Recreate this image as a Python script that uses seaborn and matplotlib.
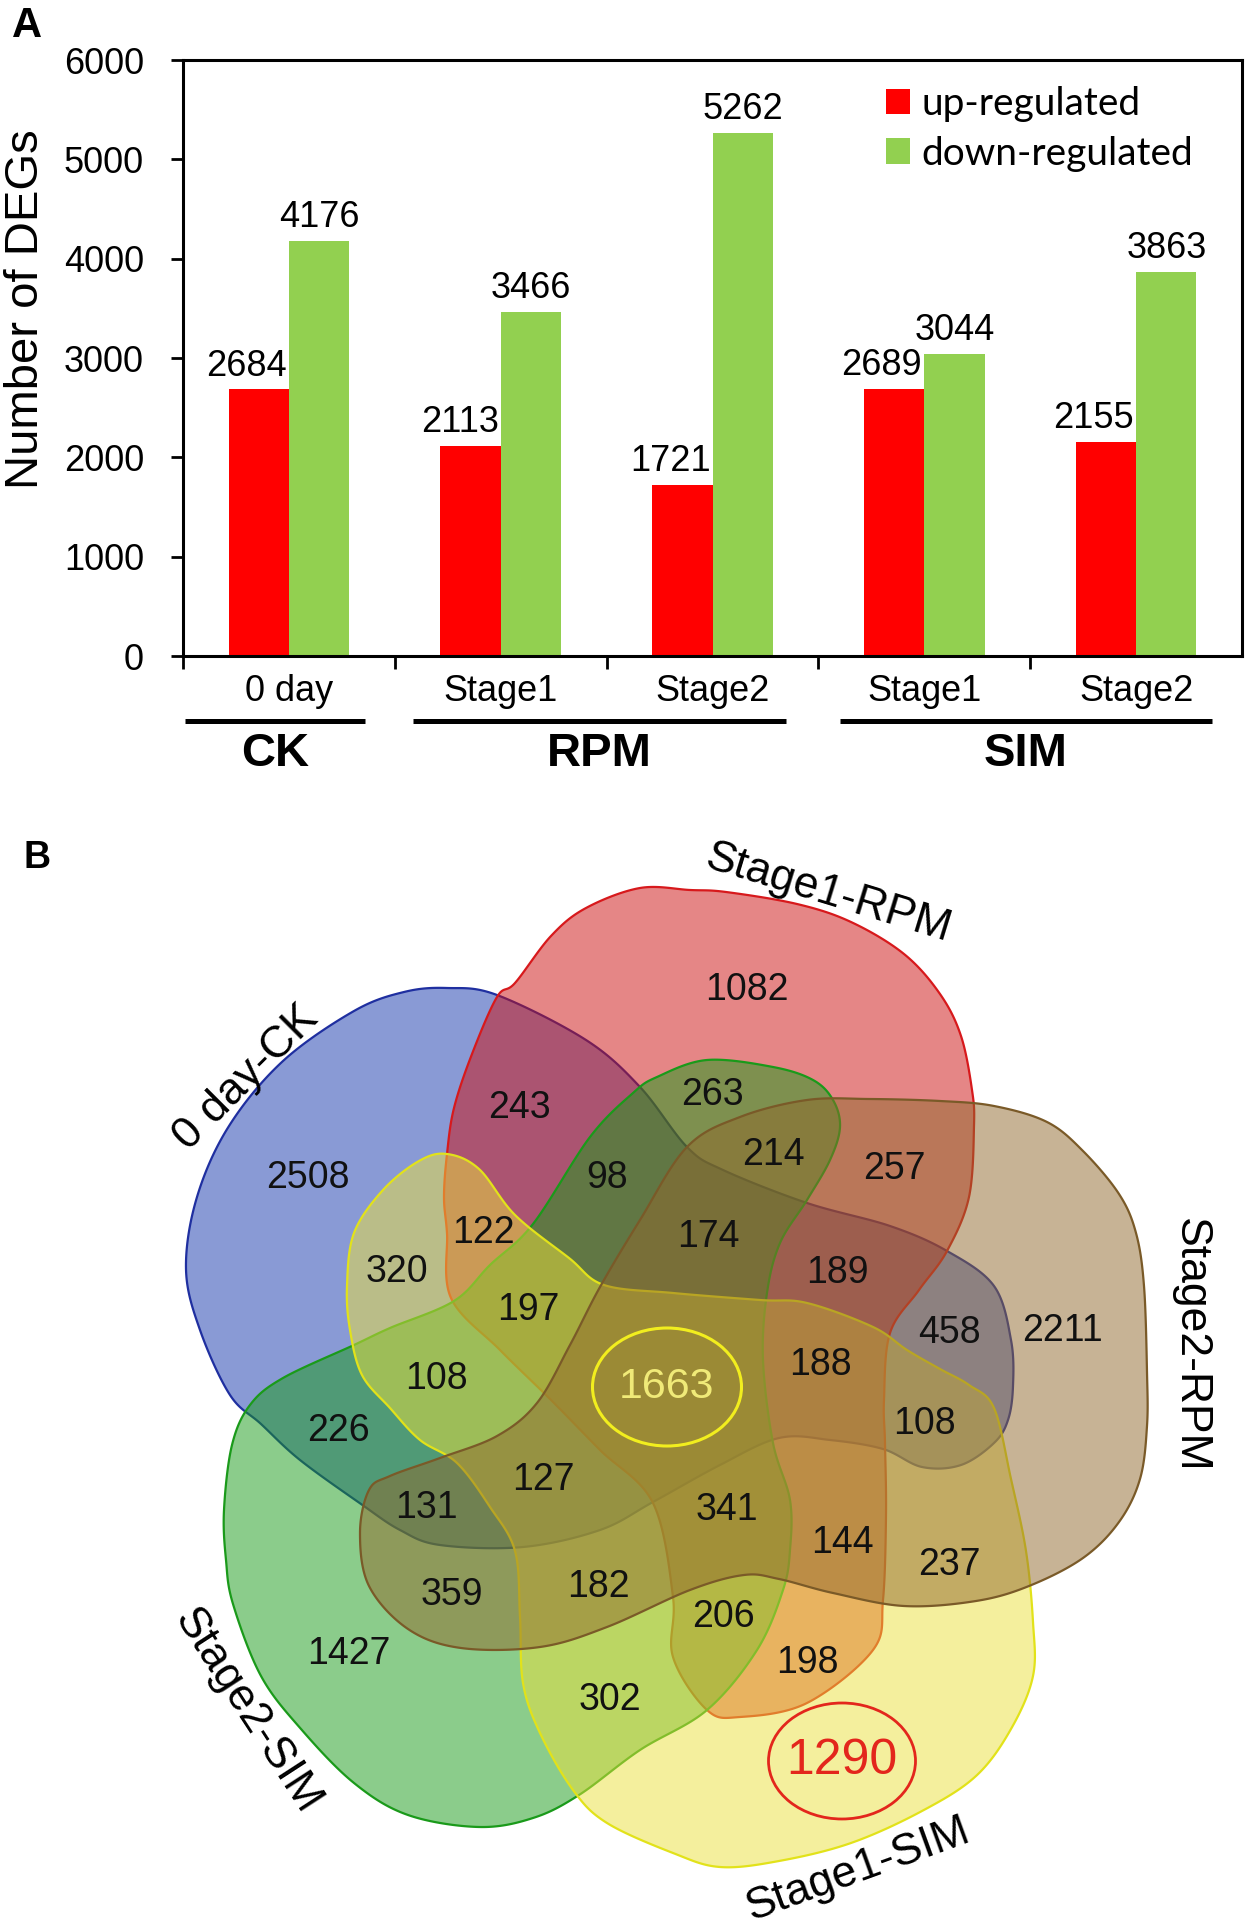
import numpy as np
import pandas as pd
import seaborn as sns
import matplotlib
matplotlib.use("Agg")
from matplotlib import pyplot as plt
from matplotlib.patches import Patch, Polygon, Ellipse
from matplotlib.transforms import blended_transform_factory

# ---- data: panel A ----
samples = ["0 day-CK", "Stage1-RPM", "Stage2-RPM", "Stage1-SIM", "Stage2-SIM"]
tick_names = ["0 day", "Stage1", "Stage2", "Stage1", "Stage2"]
regulation = ["up-regulated", "down-regulated"]
up_counts = [2684, 2113, 1721, 2689, 2155]
down_counts = [4176, 3466, 5262, 3044, 3863]
groups = ["CK", "RPM", "SIM"]

# ---- data: panel B (region counts) ----
set_names = ["0 day-CK", "Stage1-RPM", "Stage2-RPM", "Stage1-SIM", "Stage2-SIM"]
venn_counts = [2508, 243, 1082, 263, 214, 257, 98, 122, 174, 320, 189, 197,
               458, 2211, 1663, 108, 188, 108, 226, 127, 131, 341, 144, 237,
               359, 182, 206, 1427, 198, 302, 1290]

fs = 26
plt.rcParams['font.family'] = ['Liberation Sans', 'DejaVu Sans']

df = pd.DataFrame({
    'sample': samples * 2,
    'regulation': [regulation[0]] * 5 + [regulation[1]] * 5,
    'count': up_counts + down_counts,
})
bar_colors = ['#FF0000', '#92D050']

W, H = 1254, 1932
fig = plt.figure(figsize=(W / 100, H / 100), dpi=100)
ax = fig.add_axes([183 / W, 1 - 656 / H, (1242 - 183) / W, 596 / H])

sns.barplot(data=df, x='sample', y='count', hue='regulation', order=samples,
            hue_order=regulation, palette=bar_colors, width=0.57, saturation=1,
            linewidth=0, legend=False, ax=ax)
ax.set_xlim(-0.5, 4.5)
ax.set_ylim(0, 6000)
ax.set_yticks(range(0, 6001, 1000))
ax.tick_params(axis='y', labelsize=fs, length=9, width=2, pad=19)
ax.set_xticks(range(5))
ax.set_xticklabels(tick_names)
ax.tick_params(axis='x', which='major', labelsize=fs, length=0, pad=13)
ax.set_xticks([-0.5, 0.5, 1.5, 2.5, 3.5], minor=True)
ax.tick_params(axis='x', which='minor', length=9, width=2, direction='out')
for s in ax.spines.values():
    s.set_linewidth(2.2)
ax.set_xlabel('')
ax.set_ylabel('Number of DEGs', fontsize=34)
ax.yaxis.set_label_coords((26 - 183) / (1242 - 183), (656 - 309) / 596)
ax.yaxis.label.set_va('center')

# value labels
for i in range(5):
    ax.annotate(str(up_counts[i]), (i - 0.01, up_counts[i]), xytext=(0, 10),
                textcoords='offset points', ha='right', va='baseline', fontsize=fs)
    ax.annotate(str(down_counts[i]), (i + 0.1425, down_counts[i]), xytext=(0, 10),
                textcoords='offset points', ha='center', va='baseline', fontsize=fs)

handles = [Patch(facecolor=c, edgecolor='none', label=l) for c, l in zip(bar_colors, regulation)]
ax.legend(handles=handles, loc='upper left', bbox_to_anchor=(886 / W, 1 - 86 / H),
          bbox_transform=fig.transFigure, frameon=False,
          prop={'family': 'Lato', 'size': 28}, handlelength=0.62, handleheight=0.62,
          handletextpad=0.3, labelspacing=0.35, borderpad=0, borderaxespad=0)

# group underlines and labels
trans = blended_transform_factory(ax.transData, ax.transAxes)
group_spans = [(-0.49, 0.36), (0.587, 2.346), (2.60, 4.36)]
for g, (x0, x1) in zip(groups, group_spans):
    ax.plot([x0, x1], [-0.109, -0.109], color='black', lw=3.6, transform=trans,
            clip_on=False, solid_capstyle='butt')
    ax.text((x0 + x1) / 2, -0.164, g, transform=trans, ha='center', va='center',
            fontsize=34, fontweight='bold')

fig.text(12 / W, 1 - 6 / H, 'A', fontsize=30, fontweight='bold', va='top', ha='left')
fig.text(24 / W, 1 - 840 / H, 'B', fontsize=27, fontweight='bold', va='top', ha='left')

# ---- panel B: five-set Venn ----
ax2 = fig.add_axes([0, 0, 1, 1])
ax2.set_xlim(0, W)
ax2.set_ylim(H, 0)
ax2.axis('off')


def smooth_closed(pts, n=24):
    P = np.asarray(pts, float)
    N = len(P)
    t = np.linspace(0, 1, n, endpoint=False)[:, None]
    out = []
    for i in range(N):
        p0, p1, p2, p3 = P[i - 1], P[i], P[(i + 1) % N], P[(i + 2) % N]
        out.append(0.5 * (2 * p1 + (p2 - p0) * t + (2 * p0 - 5 * p1 + 4 * p2 - p3) * t ** 2
                          + (-p0 + 3 * p1 - 3 * p2 + p3) * t ** 3))
    return np.vstack(out)


shape_blue = [(447, 988), (497, 995), (586, 1040), (640, 1087), (687, 1147), (723, 1170),
              (807, 1203), (890, 1226), (947, 1251), (994, 1286), (1011, 1340), (1013, 1386),
              (1008, 1420), (994, 1443), (961, 1465), (922, 1467), (883, 1449), (830, 1440),
              (779, 1438), (720, 1465), (653, 1502), (600, 1530), (523, 1547), (440, 1545),
              (400, 1530), (361, 1504), (300, 1460), (261, 1424), (230, 1395), (200, 1330),
              (186, 1269), (197, 1197), (229, 1126), (283, 1061), (354, 1011), (404, 992)]
shape_red = [(640, 888), (690, 890), (726, 892), (797, 904), (851, 922), (904, 954),
             (940, 994), (961, 1036), (972, 1090), (974, 1126), (969, 1197), (947, 1251),
             (919, 1290), (890, 1333), (884, 1400), (885, 1443), (886, 1515), (883, 1600),
             (873, 1650), (807, 1703), (740, 1717), (707, 1710), (673, 1657), (673, 1597),
             (653, 1503), (600, 1450), (551, 1400), (500, 1350), (451, 1298), (447, 1233),
             (444, 1197), (447, 1154), (454, 1108), (472, 1054), (497, 997), (515, 983),
             (551, 936), (586, 908)]
shape_brown = [(687, 1147), (740, 1117), (807, 1100), (869, 1099), (940, 1101), (994, 1106),
               (1047, 1122), (1083, 1151), (1119, 1194), (1136, 1233), (1144, 1286),
               (1147, 1372), (1147, 1426), (1140, 1479), (1119, 1522), (1083, 1558),
               (1029, 1586), (976, 1601), (904, 1606), (833, 1593), (779, 1579), (744, 1575),
               (690, 1590), (607, 1627), (540, 1647), (461, 1648), (408, 1629), (369, 1586),
               (360, 1533), (369, 1490), (390, 1476), (440, 1458), (497, 1436), (537, 1403),
               (570, 1345), (600, 1287), (640, 1220)]
shape_green = [(707, 1060), (773, 1067), (813, 1080), (833, 1100), (840, 1127), (830, 1160),
               (807, 1200), (780, 1243), (767, 1293), (763, 1360), (773, 1443), (790, 1500),
               (790, 1550), (783, 1590), (757, 1650), (707, 1710), (640, 1750), (579, 1795),
               (533, 1818), (479, 1827), (408, 1815), (354, 1783), (301, 1729), (261, 1676),
               (233, 1604), (226, 1560), (224, 1510), (232, 1445), (250, 1405), (283, 1378),
               (354, 1345), (390, 1328), (454, 1301), (490, 1265), (533, 1224), (590, 1137),
               (633, 1093), (657, 1077)]
shape_yellow = [(447, 1154), (479, 1169), (515, 1215), (569, 1258), (604, 1285), (673, 1293),
                (760, 1300), (807, 1303), (873, 1327), (907, 1350), (940, 1369), (969, 1385),
                (994, 1408), (1011, 1479), (1026, 1551), (1033, 1622), (1033, 1676),
                (1011, 1729), (976, 1776), (922, 1811), (851, 1843), (779, 1861), (720, 1867),
                (673, 1853), (607, 1823), (573, 1790), (540, 1733), (523, 1683), (520, 1617),
                (515, 1551), (490, 1507), (457, 1463), (420, 1440), (390, 1408), (362, 1375),
                (350, 1330), (347, 1286), (354, 1233), (383, 1190), (419, 1161)]

# drawing order: blue, red, green, yellow, brown
shapes = [
    (shape_blue, (21 / 255, 55 / 255, 173 / 255), '#1F2FA0'),
    (shape_red, (205 / 255, 15 / 255, 15 / 255), '#D7191C'),
    (shape_green, (25 / 255, 155 / 255, 25 / 255), '#1A9A1A'),
    (shape_yellow, (235 / 255, 225 / 255, 60 / 255), '#E2E21A'),
    (shape_brown, (145 / 255, 105 / 255, 45 / 255), '#7A5A28'),
]
for pts, face, edge in shapes:
    xy = smooth_closed(pts)
    ax2.add_patch(Polygon(xy, closed=True, facecolor=face, alpha=0.5, edgecolor='none'))
    ax2.add_patch(Polygon(xy, closed=True, facecolor='none', edgecolor=edge, lw=1.6))

venn_xy = [(308, 1178), (519, 1108), (747, 990), (712, 1095), (773, 1155), (894, 1169),
           (607, 1178), (483, 1233), (708, 1237), (397, 1272), (837, 1273), (528, 1310),
           (949, 1333), (1063, 1331), (667, 1387), (436, 1379), (820, 1365), (924, 1424),
           (338, 1431), (543, 1480), (426, 1508), (727, 1510), (842, 1543), (949, 1565),
           (452, 1595), (598, 1587), (723, 1617), (349, 1654), (807, 1663), (610, 1700),
           (842, 1761)]
for val, (x, y) in zip(venn_counts, venn_xy):
    if val == 1663:
        ax2.text(x, y, str(val), ha='center', va='center', fontsize=31, color='#F0EA78')
        ax2.add_patch(Ellipse((x, y), 149, 118, fill=False, edgecolor='#F2EE1E', lw=2.2))
    elif val == 1290:
        ax2.text(x, y, str(val), ha='center', va='center', fontsize=36, color='#E3261C')
        ax2.add_patch(Ellipse((x, y), 147, 116, fill=False, edgecolor='#E3261C', lw=2))
    else:
        ax2.text(x, y, str(val), ha='center', va='center', fontsize=27, color='#111111')

set_label_xy = [(246, 1078), (829, 894), (1190, 1345), (858, 1870), (247, 1711)]
set_label_rot = [45, -17, -90, 20, -57]
for name, (x, y), r in zip(set_names, set_label_xy, set_label_rot):
    ax2.text(x, y, name, ha='center', va='center', rotation=r, fontsize=32,
             rotation_mode='anchor')

fig.savefig('out.png', dpi=100, facecolor='white')
